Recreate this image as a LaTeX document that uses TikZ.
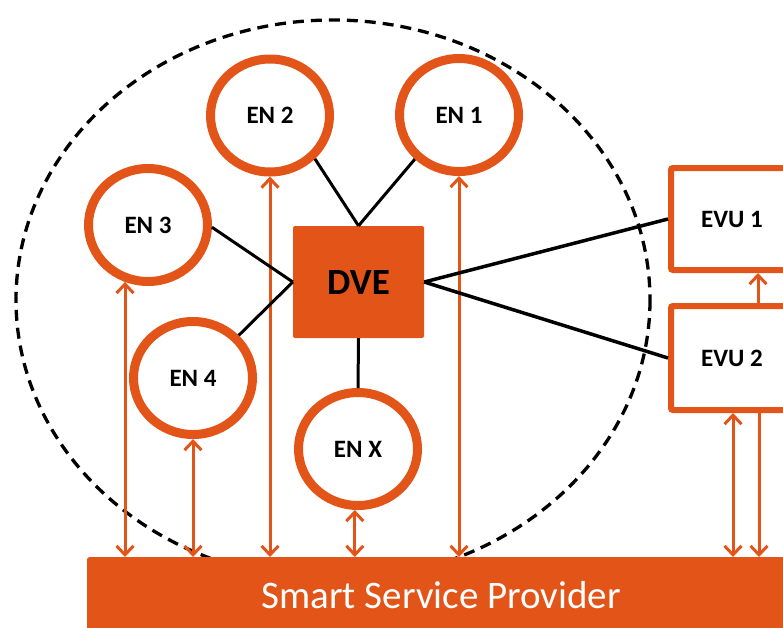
\documentclass[tikz,border=0pt]{standalone}
\usepackage{fontspec}
\setmainfont{Carlito}
\usetikzlibrary{arrows.meta,shapes.geometric}
\definecolor{ora}{RGB}{226,84,24}
\begin{document}
\begin{tikzpicture}[x=1pt,y=-1pt,
  en/.style={ellipse, draw=ora, line width=9pt, fill=white, inner sep=0pt, minimum width=119pt, minimum height=113pt, font=\fontsize{25}{28}\selectfont\bfseries},
  evu/.style={rectangle, draw=ora, line width=6pt, fill=white, minimum width=122pt, rounded corners=2pt, font=\fontsize{25}{28}\selectfont\bfseries},
  link/.style={line width=3pt, black},
  flow/.style={ora, line width=3pt, {Straight Barb[length=9pt,width=17pt]}-{Straight Barb[length=9pt,width=17pt]}},
  oneway/.style={ora, line width=3pt, -{Straight Barb[length=9pt,width=17pt]}},
]
\useasboundingbox (0,0) rectangle (783,627);
% boundary
\draw[black, line width=3.3pt, dash pattern=on 11pt off 7pt] (333,300) ellipse [x radius=317, y radius=280];
% nodes
\node[en] (EN2) at (270,115.5) {EN 2};
\node[en] (EN1) at (459,115) {EN 1};
\node[en] (EN3) at (148,225) {EN 3};
\node[en] (EN4) at (193,378) {EN 4};
\node[en] (ENX) at (358,449) {EN X};
\node[fill=ora, rounded corners=2pt, minimum width=131pt, minimum height=112pt, font=\fontsize{37}{42}\selectfont\bfseries] (DVE) at (358.5,282) {DVE};
\node[evu, minimum height=102pt] (EVU1) at (732,219) {EVU 1};
\node[evu, minimum height=104pt] (EVU2) at (732,358) {EVU 2};
\node[fill=ora, minimum width=708pt, minimum height=76pt, inner sep=0pt, text=white, font=\fontsize{39}{45}\selectfont, anchor=north west, rounded corners=2pt] (bar) at (87,557) {Smart Service Provider};
% flows
\draw[flow] (EN3.-112) -- (EN3.-112 |- bar.north);
\draw[flow] (EN4.south) -- (EN4.south |- bar.north);
\draw[flow] (EN2.south) -- (EN2.south |- bar.north);
\draw[flow] (ENX.-93) -- (ENX.-93 |- bar.north);
\draw[flow] (EN1.south) -- (EN1.south |- bar.north);
\draw[flow] (733,0 |- EVU2.south) -- (733,0 |- bar.north);
\draw[oneway] (759,0 |- EVU2.south) -- (759,0 |- bar.north);
\draw[oneway] (758,0 |- EVU2.north) -- (758,0 |- EVU1.south);
% links
\draw[link] (EN2.-44) -- (DVE.north);
\draw[link] (EN1.-135) -- (DVE.north);
\draw[link] (EN3.-2) -- (DVE.west);
\draw[link] (EN4.43) -- (DVE.west);
\draw[link] (DVE.south) -- (ENX.north);
\draw[link, line width=3.5pt] (DVE.east) -- (EVU1.west);
\draw[link, line width=3.5pt] (DVE.east) -- (EVU2.west);
\end{tikzpicture}
\end{document}
